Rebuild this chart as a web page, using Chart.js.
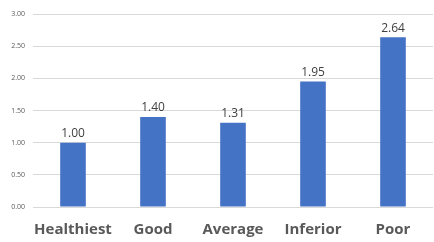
<!DOCTYPE html>
<html>
<head>
<meta charset="utf-8">
<script src="https://cdn.jsdelivr.net/npm/chart.js@4/dist/chart.umd.min.js"></script>
<style>
  html, body { margin: 0; padding: 0; background: #fff; }
  #wrap { width: 434px; height: 242px; position: relative; }
</style>
</head>
<body>
<div id="wrap"><canvas id="c"></canvas></div>
<script>
const categories = ['Healthiest', 'Good', 'Average', 'Inferior', 'Poor'];
const values = [1.00, 1.40, 1.31, 1.95, 2.64];

// étiquettes au-dessus des barres
const barLabels = {
  id: 'barLabels',
  afterDatasetsDraw(chart) {
    const ctx = chart.ctx;
    const meta = chart.getDatasetMeta(0);
    ctx.save();
    ctx.font = '12px "Open Sans", sans-serif';
    ctx.fillStyle = '#404040';
    ctx.textAlign = 'center';
    ctx.textBaseline = 'bottom';
    meta.data.forEach((bar, i) => {
      ctx.fillText(values[i].toFixed(2), bar.x, bar.y - 3);
    });
    ctx.restore();
  }
};

new Chart(document.getElementById('c'), {
  type: 'bar',
  data: {
    labels: categories,
    datasets: [{
      data: values,
      backgroundColor: '#4472C4',
      borderWidth: 0,
      barPercentage: 0.32,
      categoryPercentage: 1.0
    }]
  },
  options: {
    responsive: true,
    maintainAspectRatio: false,
    animation: false,
    layout: { padding: { top: 14, right: 1, left: 0, bottom: 0 } },
    plugins: { legend: { display: false }, tooltip: { enabled: false } },
    scales: {
      x: {
        grid: { display: false },
        border: { display: false },
        ticks: {
          color: '#595959',
          font: { family: '"Open Sans", sans-serif', size: 15, weight: 'bold' },
          padding: 6,
          minRotation: 0, maxRotation: 0, autoSkip: false
        },
        afterFit: s => { s.height = 35; s.paddingLeft = 0; s.paddingRight = 0; }
      },
      y: {
        min: 0, max: 3,
        grid: { color: '#d9d9d9', lineWidth: 1, drawTicks: false },
        border: { display: false },
        ticks: {
          stepSize: 0.5,
          color: '#595959',
          font: { family: '"Open Sans", sans-serif', size: 7 },
          padding: 8,
          callback: v => v.toFixed(2)
        },
        afterFit: s => { s.width = 33; }
      }
    }
  },
  plugins: [barLabels]
});
</script>
</body>
</html>
